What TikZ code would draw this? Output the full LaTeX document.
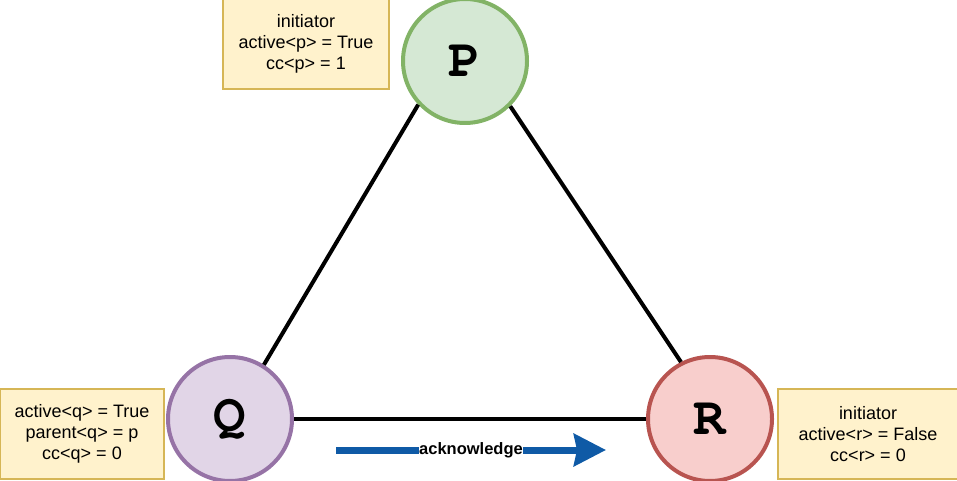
\documentclass[tikz,border=0pt]{standalone}
\usepackage{fontspec}
\setmainfont{Liberation Sans}
\newfontfamily\procfont{texgyrecursor-bold.otf}
\usetikzlibrary{arrows.meta}
\definecolor{pfill}{HTML}{D5E8D4}
\definecolor{pline}{HTML}{82B366}
\definecolor{qfill}{HTML}{E1D5E7}
\definecolor{qline}{HTML}{9673A6}
\definecolor{rfill}{HTML}{F8CECC}
\definecolor{rline}{HTML}{B85450}
\definecolor{notefill}{HTML}{FFF2CC}
\definecolor{noteline}{HTML}{D6B656}
\definecolor{ackblue}{HTML}{0F5AA6}
\begin{document}
\begin{tikzpicture}[x=1pt,y=-1pt,
    proc/.style={draw,circle,line width=4pt,minimum size=124pt,inner sep=0pt,font=\procfont\fontsize{54}{54}\selectfont},
    info/.style={draw=noteline,fill=notefill,line width=1.2pt,align=center,inner sep=0pt,minimum height=90pt,font=\fontsize{18}{21}\selectfont},
    link/.style={line width=4pt}]
                \useasboundingbox (0,0) rectangle (957,481);
                %% processes
                \node[proc,fill=pfill,draw=pline] (P) at (465,61) {P};
                \node[proc,fill=qfill,draw=qline] (Q) at (230,419) {Q};
                \node[proc,fill=rfill,draw=rline] (R) at (710,419) {R};
                %% notes
                \node[info,minimum width=166pt] (nP) at (306,44) {initiator\\active<p> = True\\cc<p> = 1};
                \node[info,minimum width=164pt] (nQ) at (82,434) {active<q> = True\\parent<q> = p\\cc<q> = 0};
                \node[info,minimum width=180pt] (nR) at (868,434) {initiator\\active<r> = False\\cc<r> = 0};
                %% channels
                \draw[link] (P.223) -- (Q.58);
                \draw[link] (P.-45) -- (R.117);
                \draw[link] (Q) -- (R);
                %% message
                \coordinate (a1) at (336,450);
                \coordinate (a2) at (606,450);
                \draw[ackblue,line width=7pt,-{Stealth[length=32pt,width=32pt,inset=3pt]}] (a1) -- (a2)
                    node[pos=0.5,fill=white,text=black,inner sep=0.5pt,font=\bfseries\fontsize{16.5}{18}\selectfont] {acknowledge};
            \end{tikzpicture}
\end{document}
